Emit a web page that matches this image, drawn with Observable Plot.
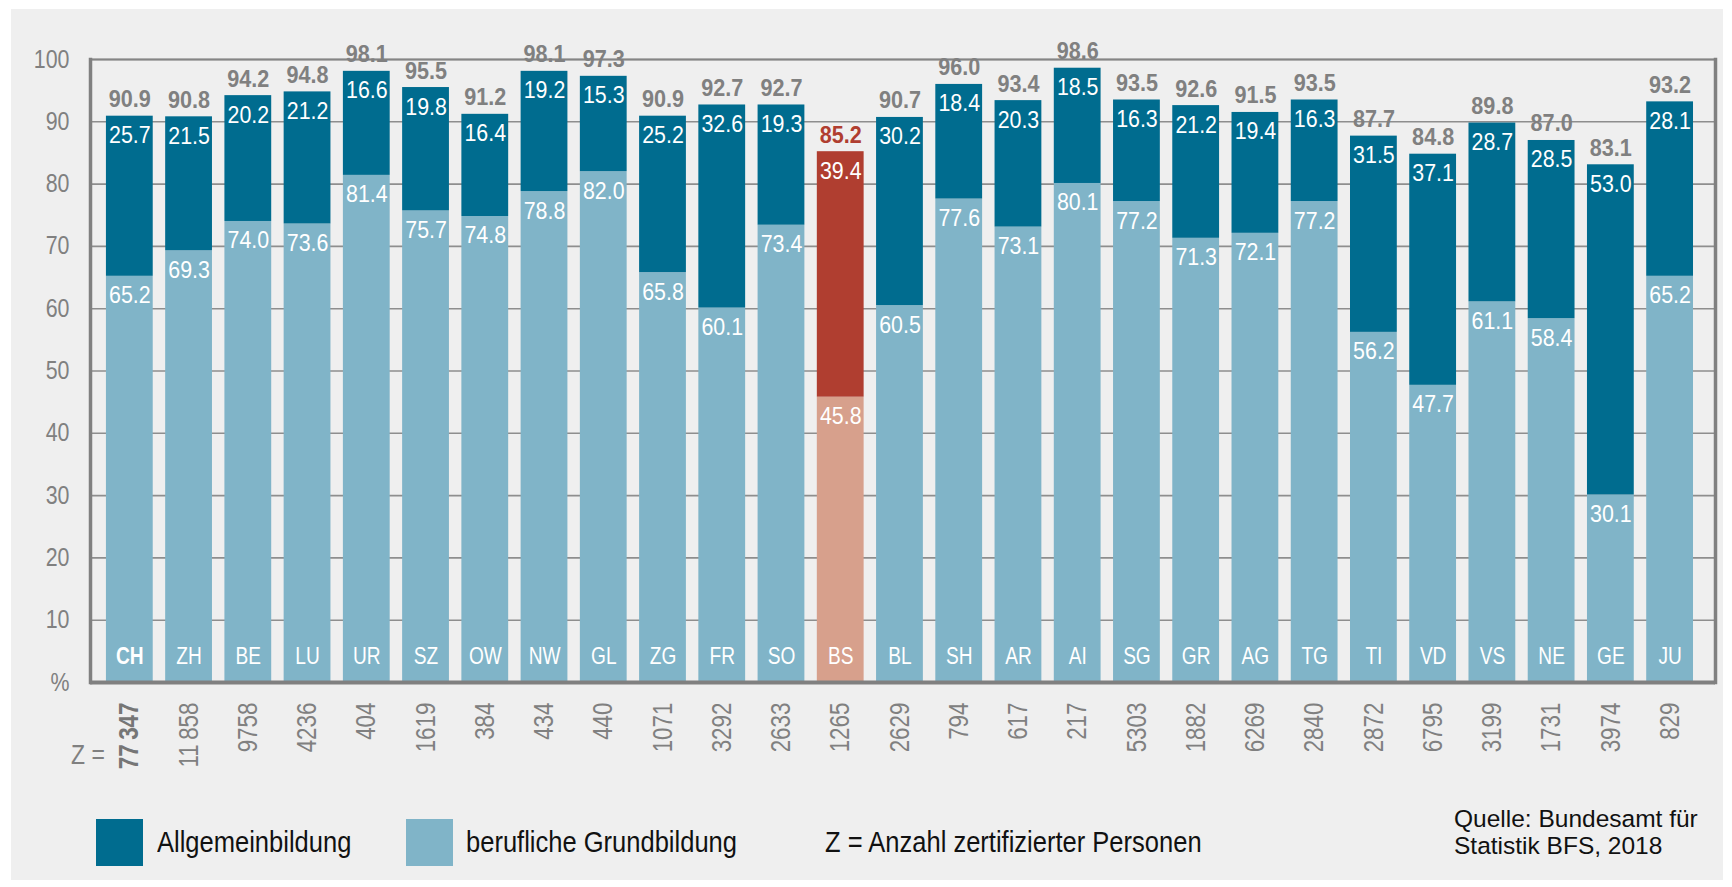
<!DOCTYPE html>
<html>
<head>
<meta charset="utf-8">
<script src="https://cdn.jsdelivr.net/npm/d3@7"></script>
<script src="https://cdn.jsdelivr.net/npm/@observablehq/plot@0.6"></script>
<style>
  html, body { margin: 0; padding: 0; background: #ffffff; }
  #wrap { position: relative; width: 1732px; height: 887px; overflow: hidden; font-family: "Liberation Sans", Arial, sans-serif; }
  #panel { position: absolute; left: 11px; top: 9px; width: 1712px; height: 871px; background: #efefef; }
  #chart { position: absolute; left: 0; top: 0; }
  .sw { position: absolute; width: 47px; height: 47px; }
  .lg { position: absolute; font-size: 29px; color: #111; white-space: nowrap; line-height: 1;
        transform: scaleX(0.88); transform-origin: 0 0; }
  #zeq { position: absolute; left: 71px; top: 742px; font-size: 27px; color: #808080; line-height: 1;
         transform: scaleX(0.85); transform-origin: 0 0; white-space: nowrap; }
  #src { position: absolute; left: 1454px; top: 805px; font-size: 24.5px; line-height: 27px; color: #111; }
</style>
</head>
<body>
<div id="wrap">
  <div id="panel"></div>
  <div id="chart"></div>
  <div id="zeq">Z =</div>
  <div class="sw" style="left:96px; top:819px; background:#006c8f;"></div>
  <div class="lg" style="left:157px; top:828px;">Allgemeinbildung</div>
  <div class="sw" style="left:406px; top:819px; background:#80b4c8;"></div>
  <div class="lg" style="left:466px; top:828px;">berufliche Grundbildung</div>
  <div class="lg" style="left:825px; top:828px;">Z = Anzahl zertifizierter Personen</div>
  <div id="src">Quelle: Bundesamt für<br>Statistik BFS, 2018</div>
</div>
<script>
const cantons = ["CH","ZH","BE","LU","UR","SZ","OW","NW","GL","ZG","FR","SO","BS","BL","SH","AR","AI","SG","GR","AG","TG","TI","VD","VS","NE","GE","JU"];
const lightValues = [65.2,69.3,74.0,73.6,81.4,75.7,74.8,78.8,82.0,65.8,60.1,73.4,45.8,60.5,77.6,73.1,80.1,77.2,71.3,72.1,77.2,56.2,47.7,61.1,58.4,30.1,65.2];
const darkValues = [25.7,21.5,20.2,21.2,16.6,19.8,16.4,19.2,15.3,25.2,32.6,19.3,39.4,30.2,18.4,20.3,18.5,16.3,21.2,19.4,16.3,31.5,37.1,28.7,28.5,53.0,28.1];
const totals = [90.9,90.8,94.2,94.8,98.1,95.5,91.2,98.1,97.3,90.9,92.7,92.7,85.2,90.7,96.0,93.4,98.6,93.5,92.6,91.5,93.5,87.7,84.8,89.8,87.0,83.1,93.2];
const zCounts = ["77\u2009347","11\u2009858","9758","4236","404","1619","384","434","440","1071","3292","2633","1265","2629","794","617","217","5303","1882","6269","2840","2872","6795","3199","1731","3974","829"];
const yTicks = [0,10,20,30,40,50,60,70,80,90,100];
const highlight = "BS";
const whole = "CH";

const C = {
  dark: "#006c8f", light: "#80b4c8",
  darkHi: "#b03e30", lightHi: "#d7a08c",
  gray: "#808080", grid: "#8e8e8e"
};
const FONT = '"Liberation Sans", Arial, sans-serif';
// font sizes double as keys for the horizontal condensing factor
const FS = { total: 24, value: 23.5, canton: 23.9, z: 27 };
const squeeze = { "24": 0.9, "23.5": 0.91, "23.9": 0.8, "27": 0.83 };

const rows = cantons.map((c, i) => ({
  canton: c, light: lightValues[i], dark: darkValues[i], total: totals[i], z: zCounts[i]
}));

const chart = Plot.plot({
  width: 1732,
  height: 790,
  marginLeft: 90,
  marginRight: 17,
  marginTop: 59,
  marginBottom: 108,
  style: { background: "transparent", fontFamily: FONT, fontSize: "25px", color: C.gray, overflow: "visible" },
  x: { type: "band", domain: cantons, paddingInner: 0.21, paddingOuter: 0.32, align: 0.42, round: false, axis: null },
  y: { domain: [0, 100], ticks: yTicks, tickSize: 0, tickPadding: 21, label: null,
       tickFormat: d => d === 0 ? "%" : String(d) },
  color: { type: "identity" },
  marks: [
    Plot.ruleY(yTicks.filter(d => d > 0), { stroke: C.grid, strokeWidth: 1.6 }),
    Plot.barY(rows, { x: "canton", y1: 0, y2: "light",
      fill: d => d.canton === highlight ? C.lightHi : C.light }),
    Plot.barY(rows, { x: "canton", y1: "light", y2: "total",
      fill: d => d.canton === highlight ? C.darkHi : C.dark }),
    Plot.frame({ stroke: "#858585", strokeWidth: 2 }),
    Plot.frame({ anchor: "left", stroke: "#808080", strokeWidth: 3.5 }),
    Plot.frame({ anchor: "right", stroke: "#808080", strokeWidth: 3.5 }),
    Plot.ruleY([0], { stroke: "#808080", strokeWidth: 4 }),
    // totals
    Plot.text(rows, { x: "canton", y: "total", text: d => d.total.toFixed(1),
      dy: -9, lineAnchor: "bottom", fontWeight: "bold", fontSize: FS.total,
      fill: d => d.canton === highlight ? C.darkHi : C.gray }),
    // dark segment values
    Plot.text(rows, { x: "canton", y: "total", text: d => d.dark.toFixed(1),
      dy: 27, lineAnchor: "bottom", fontSize: FS.value, fill: "white" }),
    // light segment values
    Plot.text(rows, { x: "canton", y: "light", text: d => d.light.toFixed(1),
      dy: 27, lineAnchor: "bottom", fontSize: FS.value, fill: "white" }),
    // canton names
    Plot.text(rows.filter(d => d.canton !== whole), { x: "canton", y: 0, text: "canton",
      dy: -19, lineAnchor: "bottom", fontSize: FS.canton, fill: "white" }),
    Plot.text(rows.filter(d => d.canton === whole), { x: "canton", y: 0, text: "canton",
      dy: -19, lineAnchor: "bottom", fontSize: FS.canton, fontWeight: "bold", fill: "white" }),
    // Z counts
    Plot.text(rows.filter(d => d.canton !== whole), { x: "canton", y: 0, text: "z",
      rotate: -90, textAnchor: "end", dy: 20, fontSize: FS.z, fill: C.gray }),
    Plot.text(rows.filter(d => d.canton === whole), { x: "canton", y: 0, text: "z",
      rotate: -90, textAnchor: "end", dy: 20, fontSize: FS.z, fontWeight: "bold", fill: "#767676" })
  ]
});
document.getElementById("chart").appendChild(chart);

// emulate the condensed typeface of the original: narrow each label about its own anchor point
chart.querySelectorAll("text").forEach(t => {
  const holder = t.closest("[font-size]");
  const key = holder ? String(parseFloat(holder.getAttribute("font-size"))) : "";
  const f = squeeze[key] ?? 0.855;
  const bb = t.getBBox();
  if (!(bb.width > 0)) return;
  const anchor = getComputedStyle(t).textAnchor;
  const ax = anchor === "end" ? bb.x + bb.width : anchor === "middle" ? bb.x + bb.width / 2 : bb.x;
  const tr = t.getAttribute("transform") || "";
  t.setAttribute("transform", `${tr} translate(${ax.toFixed(2)},0) scale(${f},1) translate(${(-ax).toFixed(2)},0)`);
});
</script>
</body>
</html>
